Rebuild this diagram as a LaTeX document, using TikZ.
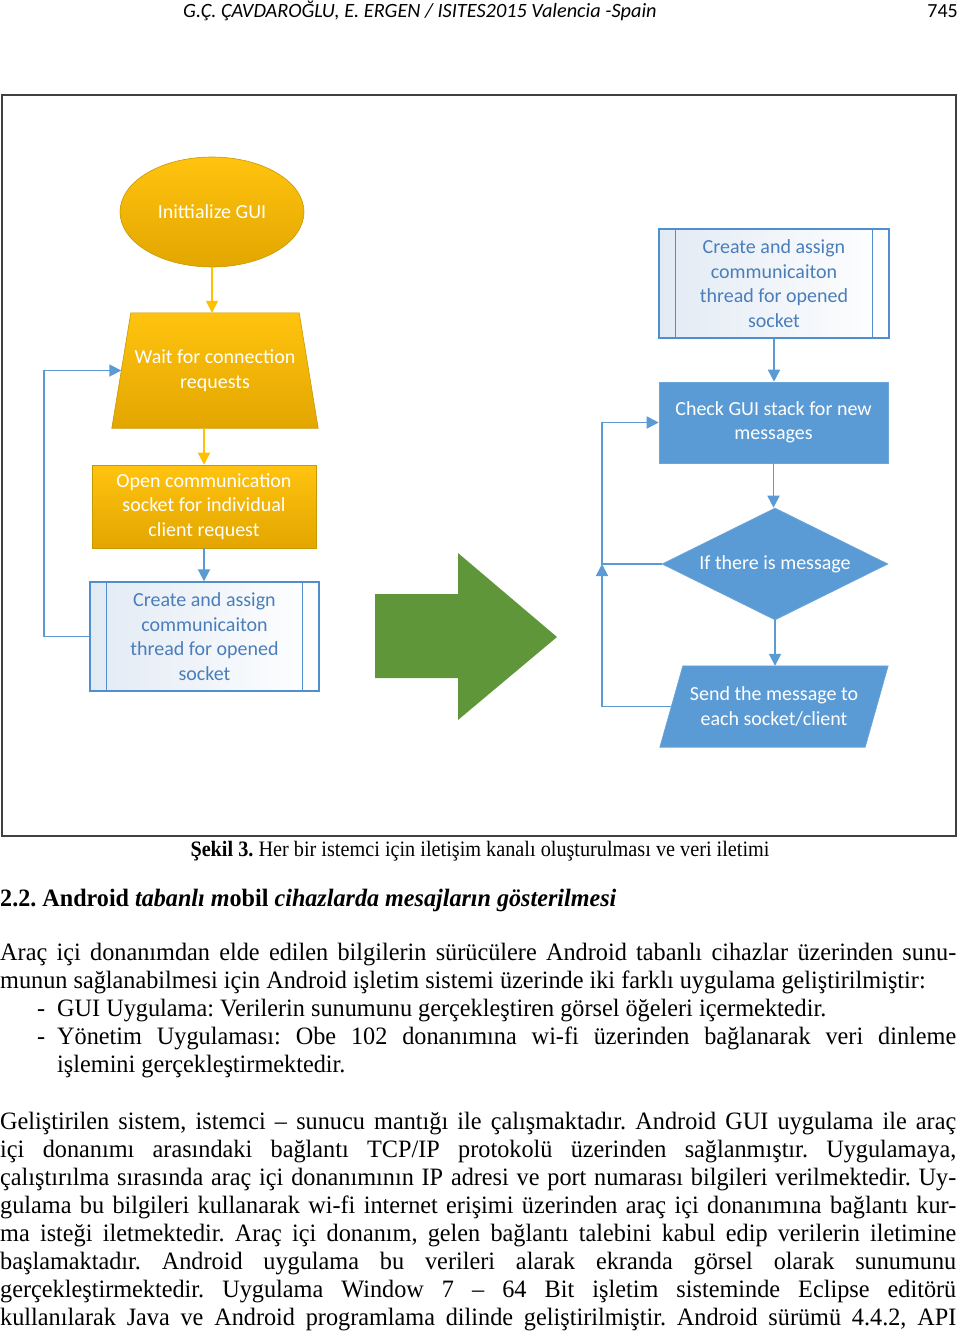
\documentclass[tikz,border=0pt]{standalone}
\usepackage{fontspec}
\setmainfont{Liberation Serif}
\newfontfamily\calfont{Carlito}
\usepackage{graphicx}
\usetikzlibrary{shapes.geometric,arrows.meta}
\pgfdeclarelayer{background}
\pgfsetlayers{background,main}
\definecolor{goldtop}{HTML}{FFC30F}
\definecolor{goldbot}{HTML}{E3A600}
\definecolor{goldline}{HTML}{C79A00}
\definecolor{goldarrow}{HTML}{FFC000}
\definecolor{msblue}{HTML}{5B9BD5}
\definecolor{procline}{HTML}{4F8FD0}
\definecolor{proctext}{HTML}{4A7EBB}
\definecolor{procfill}{HTML}{E2EAF4}
\definecolor{arrowgreen}{HTML}{60963A}
\definecolor{framecol}{HTML}{404040}
\frenchspacing
\newcommand{\jl}[2]{\scalebox{0.97}[1]{\makebox[#1][s]{#2}}}
\newcommand{\nl}[1]{\scalebox{0.97}[1]{#1}}
\begin{document}
\begin{tikzpicture}[x=1pt,y=-1pt,
  dfont/.style={font=\calfont\fontsize{20}{24.5}\selectfont},
  goldpaint/.style={draw=goldline, line width=0.6pt, top color=goldtop, bottom color=goldbot},
  bluepaint/.style={draw=msblue!90!white, line width=0.6pt, fill=msblue},
  goldbox/.style={dfont, goldpaint, text=white, align=center, inner sep=0pt},
  bluebox/.style={dfont, bluepaint, text=white, align=center, inner sep=0pt},
  textonly/.style={dfont, text=white, align=center, inner sep=0pt},
  procbox/.style={dfont, draw=procline, line width=1.4pt, left color=procfill, right color=white, text=proctext, align=center, inner sep=0pt, minimum width=229pt, minimum height=109pt},
  goldarr/.style={draw=goldarrow, line width=1.6pt, -{Triangle[width=12pt,length=12pt]}},
  bluearr/.style={draw=msblue, line width=1.8pt, -{Triangle[width=12pt,length=12pt]}},
  body/.style={anchor=base west, inner sep=0pt, font=\fontsize{25}{28}\selectfont},
]
\useasboundingbox (0,0) rectangle (960,1335);

% header
\node[anchor=base, inner sep=0pt, font=\calfont\itshape\fontsize{20.3}{24}\selectfont] (hdr) at (420,18) {G.Ç. ÇAVDAROĞLU, E. ERGEN / ISITES2015 Valencia -Spain};
\node[anchor=base east, inner sep=0pt, font=\calfont\fontsize{20}{24}\selectfont] (pg) at (958,18) {745};

% frame
\draw[framecol, line width=2pt] (2,95) rectangle (956,836);

% left column
\node[goldbox, ellipse, minimum width=184pt, minimum height=110pt] (ell) at (212,212) {Inittialize GUI};
\node[textonly, minimum width=187pt, minimum height=115pt] (trap) at (215,370.5) {Wait for connection\\requests};
\begin{pgfonlayer}{background}
\path[goldpaint] ([xshift=9.5pt]trap.north west) -- ([xshift=-9.5pt]trap.north east) -- ([xshift=9.5pt]trap.south east) -- ([xshift=-9.5pt]trap.south west) -- cycle;
\end{pgfonlayer}
\node[goldbox, rectangle, minimum width=224pt, minimum height=83pt] (open) at (204,506.5) {Open communication\\socket for individual\\client request};
\node[procbox] (c1) at (204.5,636.5) {Create and assign\\communicaiton\\thread for opened\\socket};
\draw[procline, line width=1.4pt] ([xshift=17pt]c1.north west) -- ([xshift=17pt]c1.south west);
\draw[procline, line width=1.4pt] ([xshift=-17pt]c1.north east) -- ([xshift=-17pt]c1.south east);

\draw[goldarr] (ell.south) -- (ell.south |- trap.north);
\draw[goldarr] (open.north |- trap.south) -- (open.north);
\draw[bluearr] (open.south) -- (open.south |- c1.north);
\coordinate (lc) at (44,500);
\draw[bluearr] (c1.west) -| (lc) |- (trap.west);

% green arrow
\fill[arrowgreen] (375,594) -- (458,594) -- (458,553) -- (557,637) -- (458,720) -- (458,678) -- (375,678) -- cycle;

% right column
\node[procbox, minimum width=230pt] (rc) at (774,283.5) {Create and assign\\communicaiton\\thread for opened\\socket};
\draw[procline, line width=1.4pt] ([xshift=17pt]rc.north west) -- ([xshift=17pt]rc.south west);
\draw[procline, line width=1.4pt] ([xshift=-17pt]rc.north east) -- ([xshift=-17pt]rc.south east);
\node[bluebox, rectangle, minimum width=229pt, minimum height=81pt] (chk) at (773.5,422.5) {Check GUI stack for new\\messages};
\node[bluebox, diamond, aspect=2, minimum width=226pt, minimum height=112pt] (dia) at (775,564) {If there is message};
\node[textonly, minimum width=205pt, minimum height=81pt] (send) at (774,706.5) {Send the message to\\each socket/client};
\begin{pgfonlayer}{background}
\path[bluepaint] ([xshift=11.5pt]send.north west) -- ([xshift=11.5pt]send.north east) -- ([xshift=-11.5pt]send.south east) -- ([xshift=-11.5pt]send.south west) -- cycle;
\end{pgfonlayer}

\draw[bluearr] (rc.south) -- (rc.south |- chk.north);
\draw[bluearr] (chk.south) -- (chk.south |- dia.north);
\draw[bluearr] (dia.south) -- (dia.south |- send.north);
\coordinate (jr) at (602,564);
\draw[bluearr] (send.west) -| (jr);
\draw[bluearr] (dia.west) -- (jr) |- (chk.west);

% caption
\node[anchor=base, inner sep=0pt, font=\fontsize{22}{26}\selectfont] (cap) at (480,856) {\scalebox{0.92}[1]{\textbf{Şekil 3.} Her bir istemci için iletişim kanalı oluşturulması ve veri iletimi}};

% heading
\node[body] (h) at (0,906) {\scalebox{0.965}[1]{\textbf{2.2. Android \textit{tabanlı m}obil \textit{cihazlarda mesajların gösterilmesi}}}};

% paragraph 1
\node[body] (p1) at (0,960) {\jl{985.6pt}{Araç içi donanımdan elde edilen bilgilerin sürücülere Android tabanlı cihazlar üzerinden sunu-}};
\node[body] (p2) at (0,988) {\nl{munun sağlanabilmesi için Android işletim sistemi üzerinde iki farklı uygulama geliştirilmiştir:}};
\node[body] (d1) at (37,1016) {\nl{-}};
\node[body] (p3) at (57,1016) {\nl{GUI Uygulama: Verilerin sunumunu gerçekleştiren görsel öğeleri içermektedir.}};
\node[body] (d2) at (37,1044) {\nl{-}};
\node[body] (p4) at (57,1044) {\jl{926.8pt}{Yönetim Uygulaması: Obe 102 donanımına wi-fi üzerinden bağlanarak veri dinleme}};
\node[body] (p5) at (57,1072) {\nl{işlemini gerçekleştirmektedir.}};

% paragraph 2
\node[body] (q1) at (0,1129) {\jl{985.6pt}{Geliştirilen sistem, istemci – sunucu mantığı ile çalışmaktadır. Android GUI uygulama ile araç}};
\node[body] (q2) at (0,1157) {\jl{985.6pt}{içi donanımı arasındaki bağlantı TCP/IP protokolü üzerinden sağlanmıştır. Uygulamaya,}};
\node[body] (q3) at (0,1185) {\jl{985.6pt}{çalıştırılma sırasında araç içi donanımının IP adresi ve port numarası bilgileri verilmektedir. Uy-}};
\node[body] (q4) at (0,1213) {\jl{985.6pt}{gulama bu bilgileri kullanarak wi-fi internet erişimi üzerinden araç içi donanımına bağlantı kur-}};
\node[body] (q5) at (0,1241) {\jl{985.6pt}{ma isteği iletmektedir. Araç içi donanım, gelen bağlantı talebini kabul edip verilerin iletimine}};
\node[body] (q6) at (0,1269) {\jl{985.6pt}{başlamaktadır. Android uygulama bu verileri alarak ekranda görsel olarak sunumunu}};
\node[body] (q7) at (0,1297) {\jl{985.6pt}{gerçekleştirmektedir. Uygulama Window 7 – 64 Bit işletim sisteminde Eclipse editörü}};
\node[body] (q8) at (0,1325) {\jl{985.6pt}{kullanılarak Java ve Android programlama dilinde geliştirilmiştir. Android sürümü 4.4.2, API}};
\end{tikzpicture}
\end{document}
